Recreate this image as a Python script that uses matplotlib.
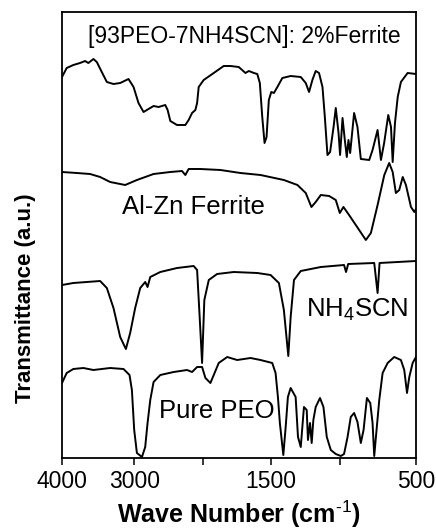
import numpy as np
import matplotlib
matplotlib.use("Agg")
import matplotlib.pyplot as plt

plt.rcParams['font.family'] = ['Liberation Sans', 'DejaVu Sans']
plt.rcParams['mathtext.fontset'] = 'custom'
plt.rcParams['mathtext.rm'] = 'Liberation Sans'
plt.rcParams['mathtext.bf'] = 'Liberation Sans:bold'

# ---------------- data (wavenumber cm-1, transmittance a.u.) ----------------
wn_composite = [4000, 3935, 3843, 3750, 3681, 3635, 3565, 3518, 3449, 3379, 3287, 3194, 3079, 3009,
                2938, 2865, 2793, 2720, 2648, 2551, 2517, 2478, 2381, 2261, 2213, 2164, 2116, 2091,
                2068, 1998, 1923, 1849, 1799, 1737, 1687, 1662, 1624, 1599, 1580, 1562, 1545, 1530,
                1513, 1495, 1476, 1451, 1415, 1355, 1282, 1246, 1222, 1198, 1174, 1150, 1125, 1108,
                1089, 1070, 1045, 1029, 1009, 998, 982, 967, 954, 943, 932, 906, 884, 862, 807, 785,
                752, 730, 709, 682, 664, 653, 638, 620, 599, 555, 500]
t_composite = [381, 390, 393, 395, 397, 395, 399, 396, 386, 376, 374, 375, 379, 371,
               355, 346, 349, 352, 351, 353, 348, 337, 333, 333, 338, 345, 348, 355,
               371, 378, 385, 392, 392, 391, 385, 387, 385, 384, 375, 341, 315, 321,
               358, 366, 365, 371, 380, 382, 381, 375, 366, 378, 387, 385, 371, 341,
               303, 306, 331, 350, 325, 303, 340, 318, 301, 318, 305, 345, 331, 299, 298, 308,
               328, 298, 315, 343, 331, 296, 335, 361, 376, 385, 384]

wn_ferrite = [4000, 3796, 3611, 3472, 3333, 3125, 2961, 2720, 2478, 2309, 2261, 2213, 2044, 1873,
              1724, 1575, 1404, 1306, 1246, 1205, 1174, 1137, 1077, 1029, 1000, 976, 939, 873,
              829, 796, 752, 708, 676, 653, 632, 610, 587, 566, 533, 511, 500]
t_ferrite = [286, 285, 284, 281, 276, 273, 278, 284, 286, 287, 283, 289, 289, 288,
             285, 283, 278, 273, 265, 251, 256, 263, 262, 258, 245, 251, 243, 228,
             218, 225, 253, 283, 295, 286, 265, 268, 281, 273, 251, 246, 249]

wn_nh4scn = [4000, 3843, 3657, 3472, 3379, 3287, 3194, 3115, 3056, 2986, 2913, 2841, 2807, 2768,
             2623, 2381, 2141, 2091, 2054, 2019, 1993, 1960, 1898, 1774, 1599, 1500, 1440, 1404,
             1372, 1355, 1331, 1282, 1137, 972, 959, 945, 774, 752, 739, 620, 500]
t_nh4scn = [173, 175, 176, 177, 170, 150, 121, 109, 125, 150, 170, 176, 171, 181,
            186, 190, 192, 188, 141, 95, 158, 178, 184, 186, 185, 183, 175, 148,
            102, 141, 178, 187, 191, 193, 186, 194, 195, 165, 195, 196, 197]

wn_peo = [4000, 3935, 3843, 3704, 3565, 3333, 3148, 3065, 3032, 3000, 2961, 2888, 2841, 2807,
          2768, 2720, 2623, 2430, 2236, 2164, 2091, 2019, 1985, 1948, 1923, 1886, 1823, 1749,
          1649, 1575, 1488, 1464, 1447, 1433, 1408, 1391, 1375, 1355, 1335, 1319, 1302, 1282,
          1259, 1239, 1230, 1215, 1203, 1191, 1174, 1143, 1118, 1094, 1065, 1029, 993, 972,
          949, 928, 906, 884, 862, 844, 822, 800, 785, 774, 763, 741, 719, 686, 643, 599,
          577, 559, 544, 522, 500]
t_peo = [75, 85, 89, 90, 88, 90, 89, 83, 68, 28, 5, 1, 11, 35,
         58, 76, 83, 86, 88, 86, 91, 91, 80, 75, 83, 95, 101, 98,
         100, 98, 95, 85, 61, 35, 3, 31, 61, 70, 65, 61, 21, 11,
         51, 48, 18, 35, 15, 38, 51, 60, 51, 21, 8, 4, 2, 4,
         21, 41, 45, 36, 15, 28, 60, 55, 35, 2, 21, 58, 85, 95, 101, 98,
         88, 65, 81, 95, 101]

tick_values = [4000, 3000, 2000, 1500, 1000, 500]
tick_labels = ['4000', '3000', '', '1500', '', '500']

# ---------------- figure ----------------
fig = plt.figure(figsize=(4.36, 5.32), dpi=100)
ax = fig.add_axes([62/436, 1-458/532, 354/436, 446/532])

# broken (piecewise-linear) FTIR wavenumber scale
scale_wn = [500, 1000, 1500, 2000, 3000, 4000]
scale_pos = [0, 76, 145, 212, 281, 353]
fwd = lambda x: np.interp(x, scale_wn, scale_pos)
inv = lambda u: np.interp(u, scale_pos, scale_wn)
ax.set_xscale('function', functions=(fwd, inv))

lw = 1.4
for wn, t in [(wn_composite, t_composite), (wn_ferrite, t_ferrite),
              (wn_nh4scn, t_nh4scn), (wn_peo, t_peo)]:
    ax.plot(wn, t, color='black', lw=lw, solid_joinstyle='round')

ax.set_xlim(4000, 500)
ax.set_ylim(0, 446)
ax.set_yticks([])
ax.set_xticks(tick_values)
ax.set_xticklabels(tick_labels, fontsize=16.5)
ax.xaxis.set_minor_locator(matplotlib.ticker.NullLocator())
ax.tick_params(axis='x', direction='out', length=5, width=1.1, pad=4)
for s in ax.spines.values():
    s.set_linewidth(1.3)

ax.set_xlabel('Wave Number (cm$^{\\text{-1}}$)', fontsize=18, fontweight='bold', labelpad=4)
fig.text(26/436, 1-298/532, 'Transmittance (a.u.)', rotation=90, fontsize=16,
         fontweight='bold', ha='center', va='center')

ax.text(0.514, 0.944, '[93PEO-7NH4SCN]: 2%Ferrite', transform=ax.transAxes,
        fontsize=16.5, ha='center', va='center')
ax.text(0.370, 0.563, 'Al-Zn Ferrite', transform=ax.transAxes,
        fontsize=18.5, ha='center', va='center')
ax.text(0.833, 0.332, 'NH$_{\\mathregular{4}}$SCN', transform=ax.transAxes,
        fontsize=18.5, ha='center', va='center')
ax.text(0.438, 0.105, 'Pure PEO', transform=ax.transAxes,
        fontsize=18.5, ha='center', va='center')

fig.savefig('out.png', dpi=100)
